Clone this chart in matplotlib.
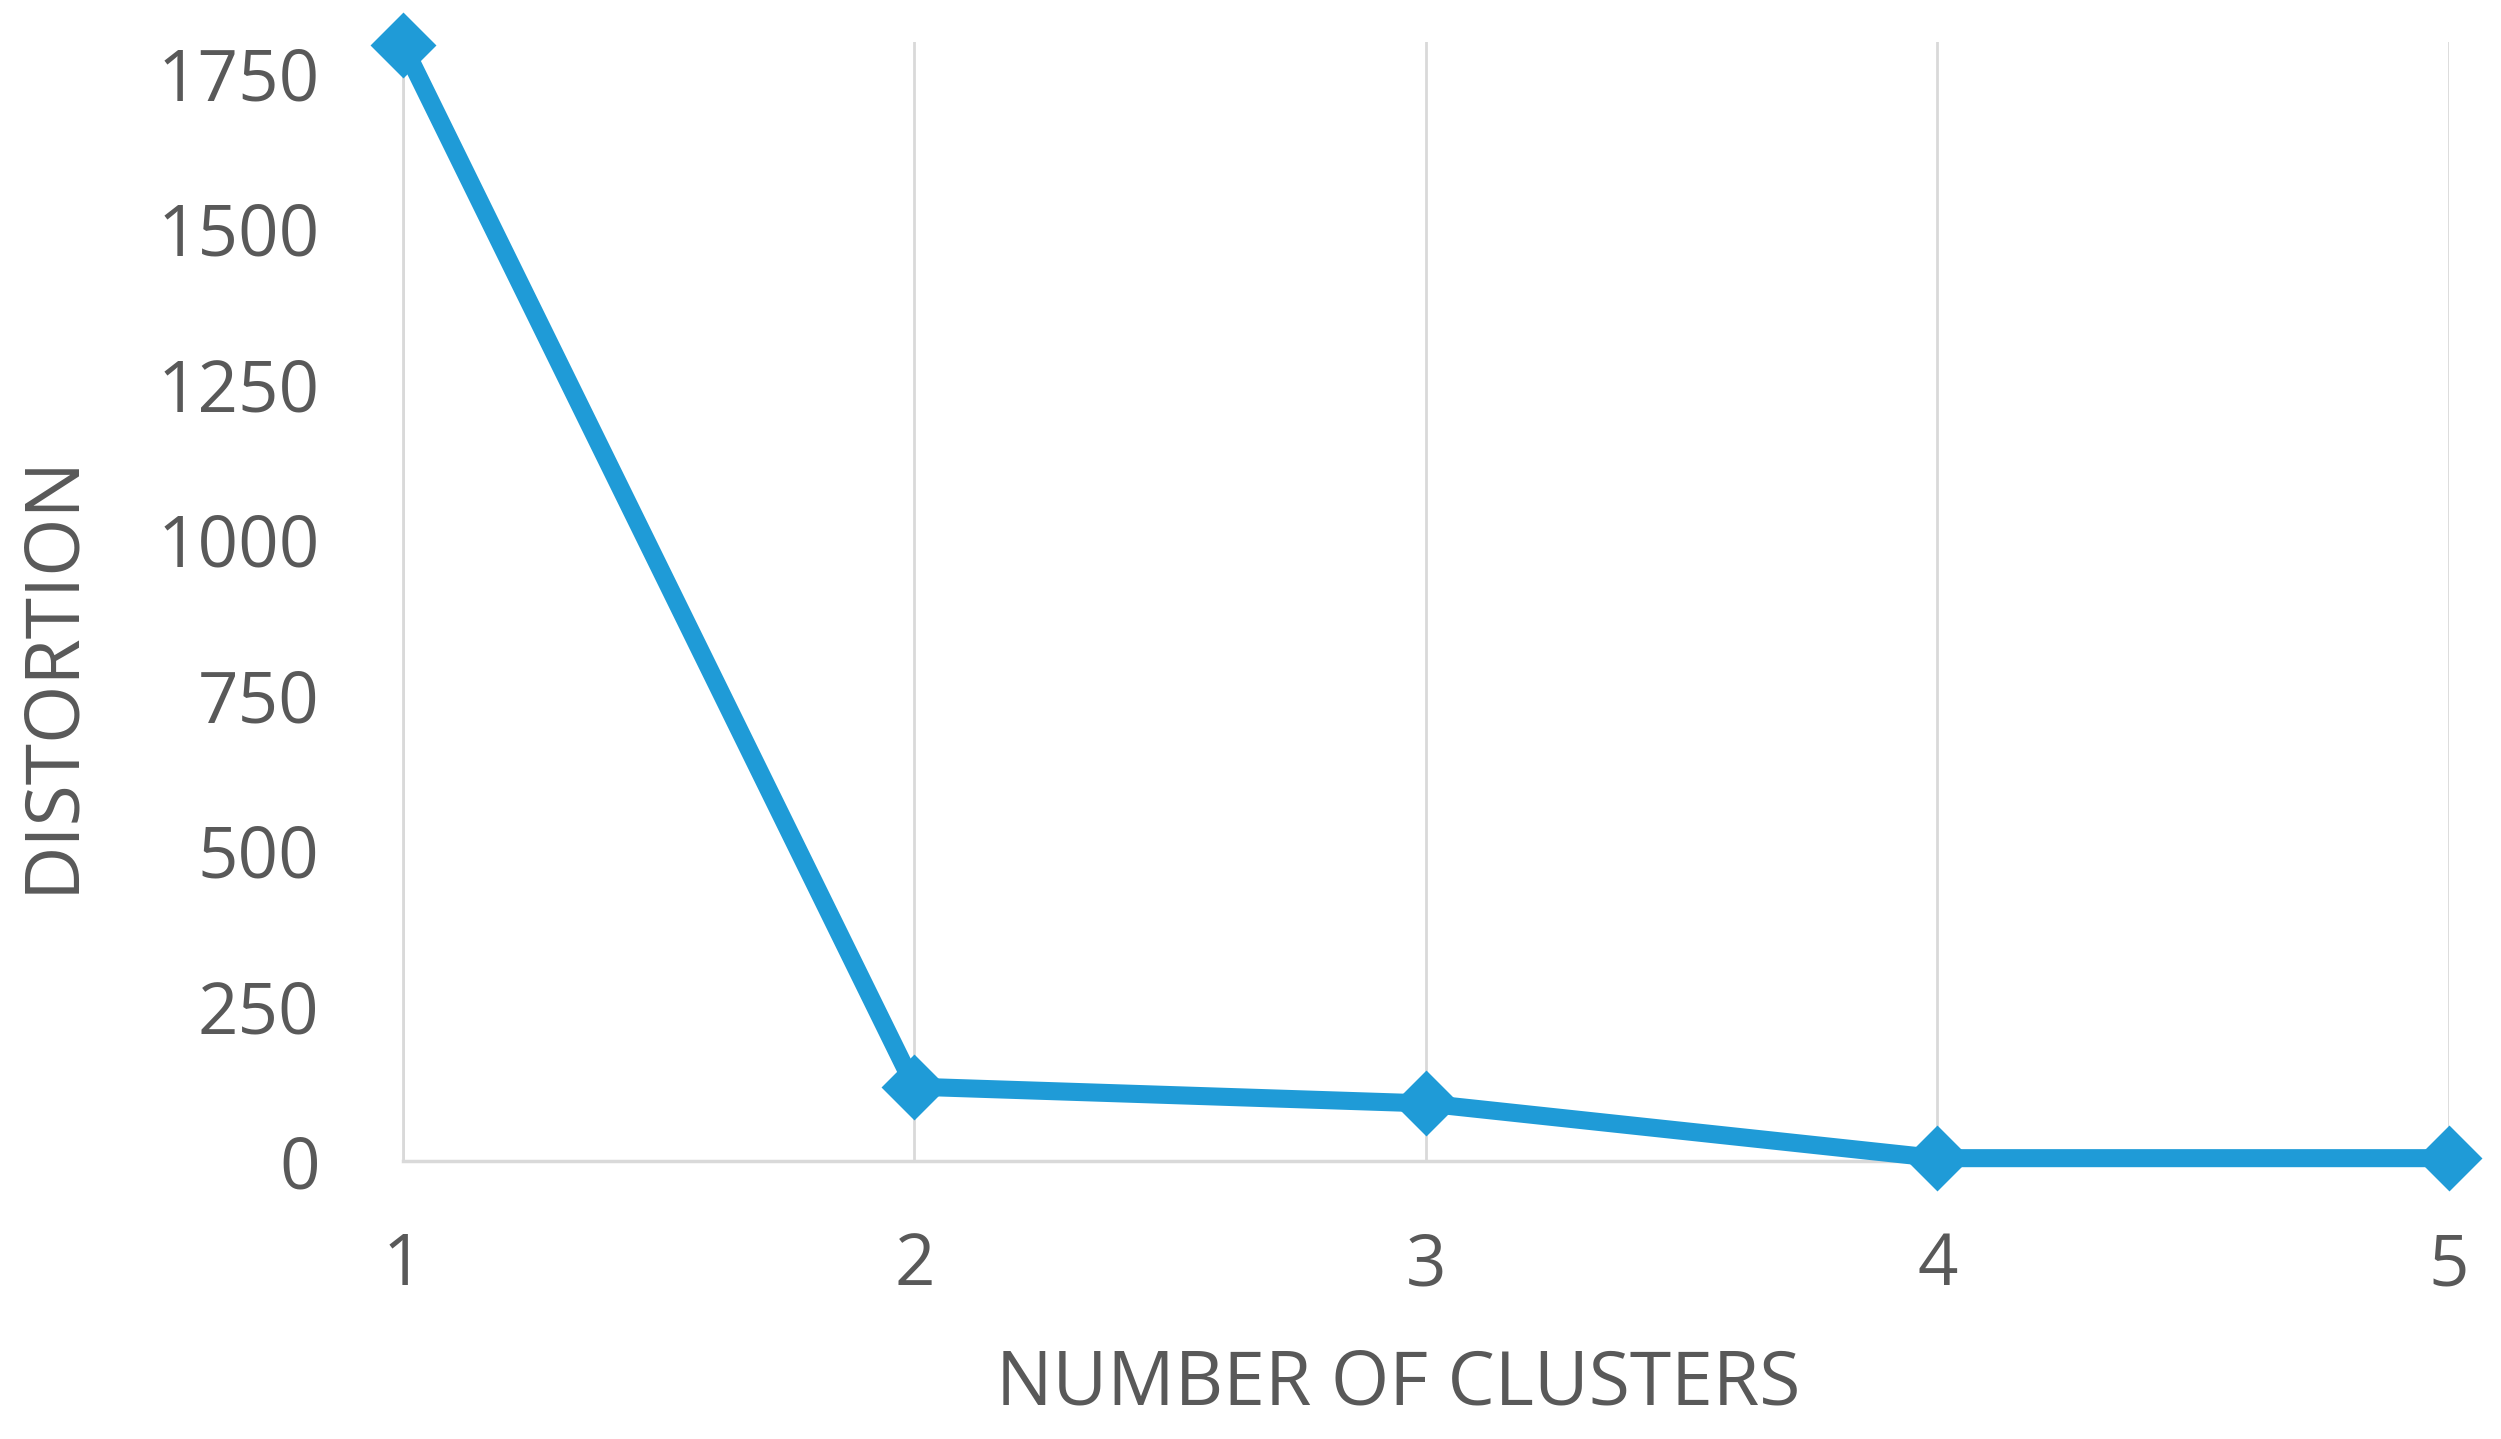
import matplotlib
matplotlib.use("Agg")
import matplotlib.pyplot as plt

# Elbow curve data
clusters = [1, 2, 3, 4, 5]
distortion = [1795, 120, 93, 5, 5]
y_ticks = [0, 250, 500, 750, 1000, 1250, 1500, 1750]

line_color = "#1F9BD7"
text_color = "#595959"
grid_color = "#D9D9D9"

plt.rcParams["font.family"] = ["Open Sans", "DejaVu Sans"]

fig = plt.figure(figsize=(25.01, 14.39), dpi=100)
ax = fig.add_axes([0.1611, 0.193, 0.818, 0.778])

# Line with diamond markers
ax.plot(
    clusters,
    distortion,
    color=line_color,
    linewidth=13,
    marker="D",
    markersize=32,
    markeredgewidth=2,
    markeredgecolor=line_color,
    clip_on=False,
    zorder=3,
)

ax.set_xlim(1, 5)
ax.set_ylim(0, 1800)
ax.set_xticks(clusters)
ax.set_yticks(y_ticks)

# Vertical gridlines only
ax.grid(axis="x", color=grid_color, linewidth=2)
ax.grid(axis="y", visible=False)

for side in ["top", "right"]:
    ax.spines[side].set_visible(False)
ax.spines["left"].set_color(grid_color)
ax.spines["left"].set_linewidth(2)
ax.spines["bottom"].set_color(grid_color)
ax.spines["bottom"].set_linewidth(2.5)

ax.tick_params(axis="both", length=0, labelsize=51, colors=text_color)
ax.tick_params(axis="x", pad=50)
ax.tick_params(axis="y", pad=60)

fig.text(0.559, 0.0375, "NUMBER OF CLUSTERS", ha="center", va="center",
         fontsize=54, color=text_color)
fig.text(0.021, 0.532, "DISTORTION", ha="center", va="center",
         rotation=90, fontsize=54, color=text_color)

fig.savefig("out.png", dpi=100, facecolor="white")
